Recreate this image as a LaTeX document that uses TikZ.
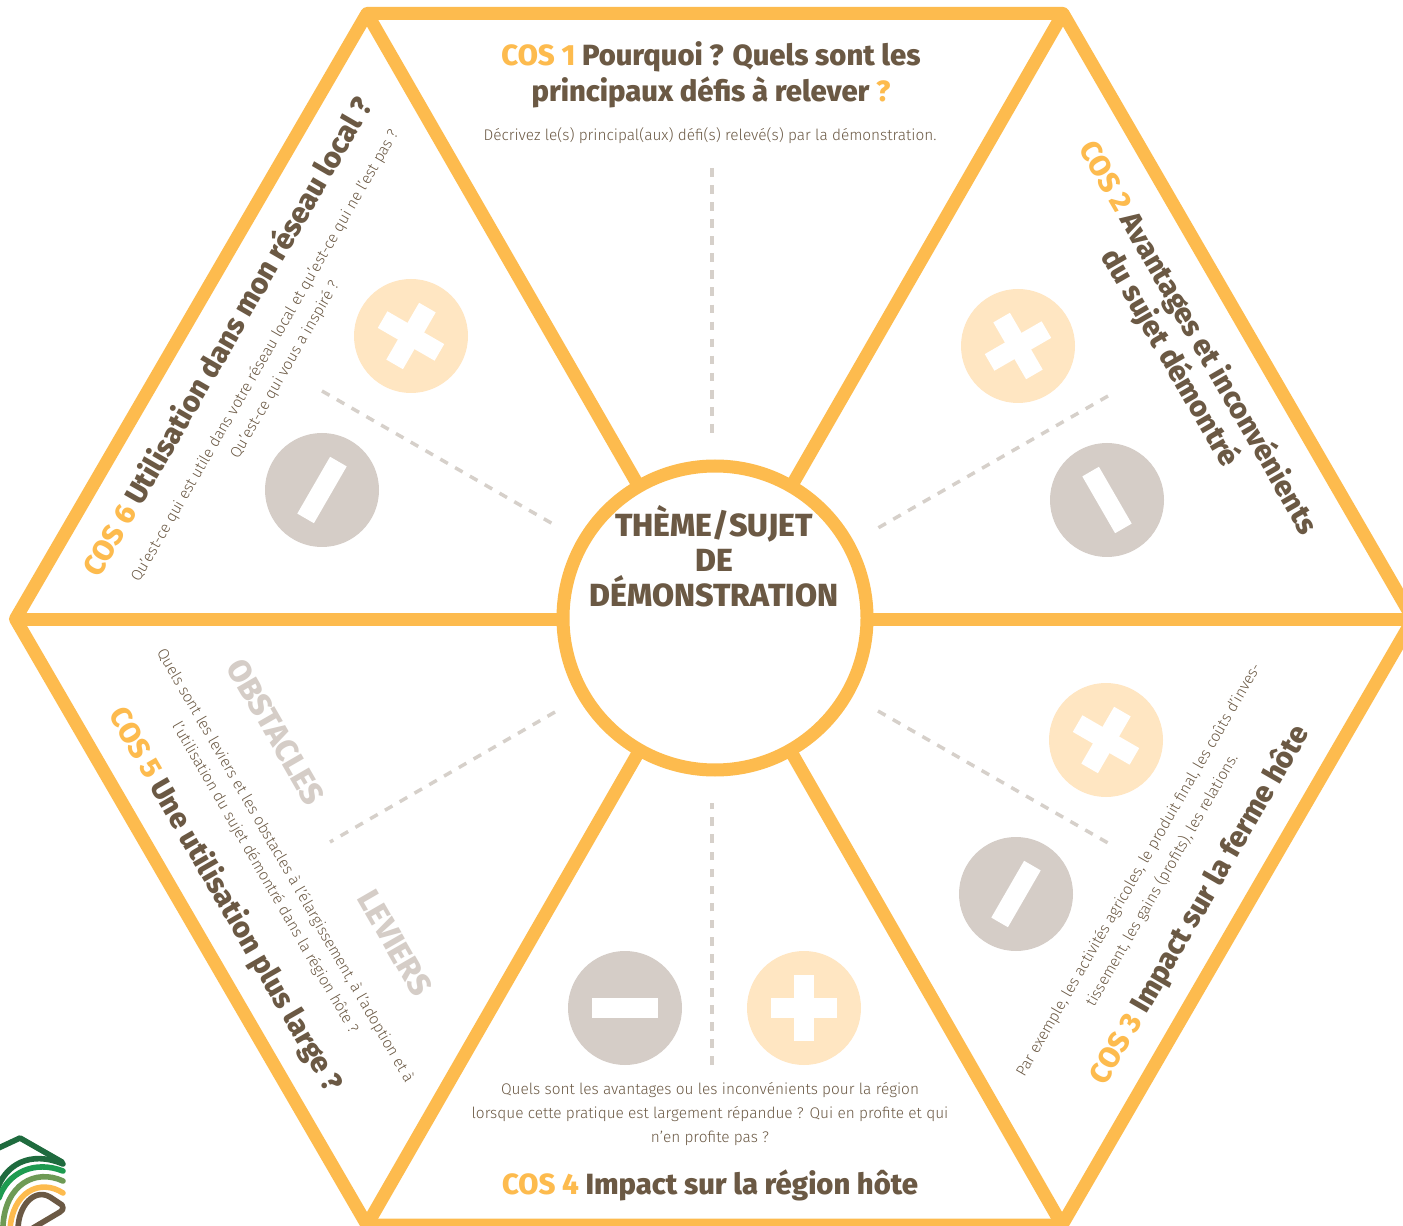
\documentclass[tikz,border=0pt]{standalone}
\usepackage{fontspec}
\setmainfont{Fira Sans}
\newfontfamily\lightf{Fira Sans Light}
\newfontfamily\heavyf{Fira Sans ExtraBold}
\definecolor{cosor}{HTML}{FDBB4E}
\definecolor{cosbr}{HTML}{6B5944}
\definecolor{cosgr}{HTML}{D5CDC7}
\definecolor{cospl}{HTML}{FFE6C2}
\definecolor{cosda}{HTML}{D6D0CA}
\definecolor{lgdk}{HTML}{1F6B3E}
\definecolor{lggr}{HTML}{1E9B50}
\definecolor{lgol}{HTML}{6E9A55}
\tikzset{
  x=0.75pt,y=-0.75pt,
  hexline/.style={draw=cosor,line width=9.75pt,line join=round},
  dashline/.style={draw=cosda,line width=2.6pt,dash pattern=on 6.5pt off 6.3pt},
  titletext/.style={font=\fontsize{21.9}{26}\selectfont\heavyf,text=cosbr,inner sep=0pt},
  bodytext/.style={font=\fontsize{11.55}{18}\selectfont\lightf,text=cosbr,inner sep=0pt},
  tagtext/.style={font=\fontsize{23.8}{26}\selectfont\heavyf,text=cosgr,inner sep=0pt},
  centertext/.style={font=\fontsize{24}{26.2}\selectfont\heavyf,text=cosbr,inner sep=0pt,align=center},
  pluscirc/.style={circle,fill=cospl,minimum size=85.5pt,inner sep=0pt},
  minuscirc/.style={circle,fill=cosgr,minimum size=85.5pt,inner sep=0pt},
  whitebar/.style={draw=white,line width=14.4pt},
  logo/.style={line width=4.2pt,line cap=round,line join=round,fill=none}
}
\newcommand{\minusmark}[3]{%
  \node[minuscirc] (#1) at (#2) {};
  \draw[whitebar,rotate around={#3:(#1.center)}] ([xshift=-24.6pt]#1.center) -- ([xshift=24.6pt]#1.center);
}
\newcommand{\plusmark}[3]{%
  \node[pluscirc] (#1) at (#2) {};
  \begin{scope}[rotate around={#3:(#1.center)}]
  \draw[whitebar] ([xshift=-24.6pt]#1.center) -- ([xshift=24.6pt]#1.center);
  \draw[whitebar] ([yshift=-24.6pt]#1.center) -- ([yshift=24.6pt]#1.center);
  \end{scope}
}
\newcommand{\cs}[1]{\textcolor{cosor}{#1}}
\begin{document}
\begin{tikzpicture}
\useasboundingbox (0,0) rectangle (1403,1226);
\clip (0,0) rectangle (1403,1226);
\fill[white] (0,0) rectangle (1403,1226);
% logo
\draw[logo,draw=lgdk] (-10,1152) -- (20,1138) -- (62,1162);
\draw[logo,draw=lgdk] (63,1164) .. controls (30,1150) and (5,1165) .. (-3,1190);
\draw[logo,draw=lggr] (63,1171) .. controls (35,1160) and (8,1172) .. (-1,1198);
\draw[logo,draw=lgol] (63,1181) .. controls (35,1168) and (5,1185) .. (3,1226);
\draw[logo,draw=cosor] (63,1193) .. controls (40,1178) and (12,1192) .. (10,1230);
\draw[logo,draw=cosbr] (18,1230) .. controls (18,1205) and (35,1188) .. (50,1197) -- (62,1205) .. controls (64,1209) and (62,1211) .. (60,1212) -- (33,1228);
% hexagon and spokes
\coordinate (h1) at (367,13.5);
\coordinate (h2) at (1063,13.5);
\coordinate (h3) at (1413,619);
\coordinate (h4) at (1062,1225);
\coordinate (h5) at (367,1225);
\coordinate (h6) at (15.5,619);
\coordinate (hc) at (715,619);
\draw[hexline] (h1) -- (h2) -- (h3) -- (h4) -- (h5) -- (h6) -- cycle;
\foreach \h in {h1,h2,h3,h4,h5,h6} \draw[hexline] (\h) -- (hc);
\node[circle,draw=cosor,fill=white,line width=9.75pt,minimum size=228pt,inner sep=0pt] (hub) at (715,618) {};
% dashed dividers
\coordinate (d1a) at (712,168); \coordinate (d1b) at (712,433);
\coordinate (d2a) at (1108,396); \coordinate (d2b) at (878,528);
\coordinate (d3a) at (878,711); \coordinate (d3b) at (1108,843);
\coordinate (d4a) at (712,1065); \coordinate (d4b) at (712,803);
\coordinate (d5a) at (555,712); \coordinate (d5b) at (330,842);
\coordinate (d6a) at (322,391); \coordinate (d6b) at (553,524);
\draw[dashline] (d1a) -- (d1b);
\draw[dashline] (d2a) -- (d2b);
\draw[dashline] (d3a) -- (d3b);
\draw[dashline] (d4a) -- (d4b);
\draw[dashline] (d5a) -- (d5b);
\draw[dashline] (d6a) -- (d6b);
% plus and minus
\plusmark{p6}{411,336}{60}
\minusmark{m6}{322,490}{60}
\plusmark{p2}{1018,346}{-60}
\minusmark{m2}{1107,500}{-60}
\plusmark{p3}{1106,740}{60}
\minusmark{m3}{1016,894}{60}
\minusmark{m4}{625,1008}{0}
\plusmark{p4}{804,1008}{0}
% centre text
\node[centertext] (hubt) at (714,556) {THÈME/SUJET\\DE\\DÉMONSTRATION};
% COS 1
\node[titletext] (t1a) at (711,57) {\cs{COS 1} Pourquoi ? Quels sont les};
\node[titletext] (t1b) at (711,92) {principaux défis à relever \cs{?}};
\node[bodytext] (b1) at (710,136) {Décrivez le(s) principal(aux) défi(s) relevé(s) par la démonstration.};
% COS 2
\node[titletext,rotate=-60] (t2a) at (1198,338) {\cs{COS 2} Avantages et inconvénients};
\node[titletext,rotate=-60] (t2b) at (1170,358) {du sujet démontré};
% COS 3
\node[titletext,rotate=60] (t3) at (1200,905) {\cs{COS 3} Impact sur la ferme hôte};
\node[bodytext,rotate=60] (b3a) at (1139,870) {Par exemple, les activités agricoles, le produit final, les coûts d’inves-};
\node[bodytext,rotate=60] (b3b) at (1162,880) {tissement, les gains (profits), les relations.};
% COS 4
\node[bodytext] (b4a) at (710,1090) {Quels sont les avantages ou les inconvénients pour la région};
\node[bodytext] (b4b) at (710,1114) {lorsque cette pratique est largement répandue ? Qui en profite et qui};
\node[bodytext] (b4c) at (710,1138) {n’en profite pas ?};
\node[titletext] (t4) at (710,1185) {\cs{COS 4} Impact sur la région hôte};
% COS 5
\node[titletext,rotate=-60] (t5) at (225,900) {\cs{COS 5} Une utilisation plus large ?};
\node[bodytext,rotate=-60] (b5a) at (285,866) {Quels sont les leviers et les obstacles à l’élargissement, à l’adoption et à};
\node[bodytext,rotate=-60] (b5b) at (265,878) {l’utilisation du sujet démontré dans la région hôte ?};
\node[tagtext,rotate=-60] (ob) at (276,732) {OBSTACLES};
\node[tagtext,rotate=-60] (le) at (395,943) {LEVIERS};
% COS 6
\node[titletext,rotate=60] (t6) at (226,336) {\cs{COS 6} Utilisation dans mon réseau local ?};
\node[bodytext,rotate=60] (b6a) at (265,356) {Qu’est-ce qui est utile dans votre réseau local et qu’est-ce qui ne l’est pas ?};
\node[bodytext,rotate=60] (b6b) at (285,370) {Qu’est-ce qui vous a inspiré ?};
\end{tikzpicture}
\end{document}
